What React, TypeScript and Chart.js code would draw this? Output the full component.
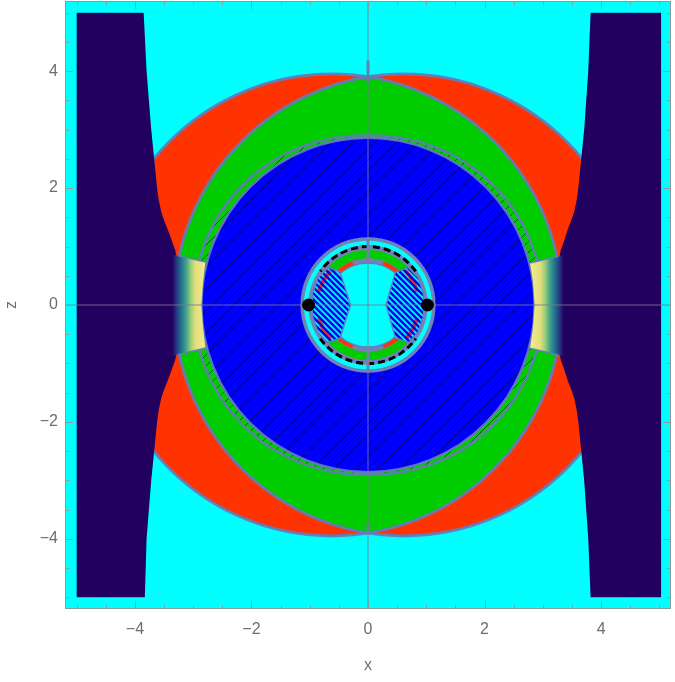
import React, { useEffect, useRef } from "react";
import { Chart, registerables } from "chart.js";

Chart.register(...registerables);

type Pt = [number, number];

// ---------------- axes ----------------
const AXIS_MIN = -5.2;
const AXIS_MAX = 5.2;
const xTickValues = [-4, -2, 0, 2, 4];
const zTickValues = [-4, -2, 0, 2, 4];
const frameTickValues = [-5, -4.5, -4, -3.5, -3, -2.5, -2, -1.5, -1, -0.5, 0, 0.5, 1, 1.5, 2, 2.5, 3, 3.5, 4, 4.5, 5];

// ---------------- outer regions (x, z) ----------------
// two equal circles: their intersection is green, the rest red
const lensCentersX = [-0.62, 0.62];
const LENS_RADIUS = 3.95;
// hatched band around the blue core
const bandCentersX = [-0.1, 0.1];
const BAND_RADIUS = 2.9;
const CORE_RADIUS = 2.86;

const navyLeft: Pt[] = [
  [-5, 5], [-3.85, 5], [-3.8, 4], [-3.72, 3], [-3.67, 2.5], [-3.62, 2], [-3.59, 1.79], [-3.55, 1.6],
  [-3.5, 1.45], [-3.44, 1.3], [-3.37, 1.11], [-3.31, 0.94], [-3.28, 0.8], [-3.25, 0.5], [-3.24, 0],
  [-3.25, -0.5], [-3.28, -0.8], [-3.31, -0.94], [-3.37, -1.11], [-3.44, -1.3], [-3.5, -1.45],
  [-3.55, -1.6], [-3.59, -1.79], [-3.62, -2], [-3.67, -2.5], [-3.72, -3], [-3.8, -4], [-3.83, -5], [-5, -5],
];
const navyRight: Pt[] = [
  [5.03, 5], [3.82, 5], [3.78, 4], [3.71, 3], [3.66, 2.5], [3.61, 2], [3.58, 1.79], [3.54, 1.6],
  [3.49, 1.45], [3.43, 1.3], [3.37, 1.11], [3.31, 0.94], [3.28, 0.8], [3.25, 0.5], [3.24, 0],
  [3.25, -0.5], [3.28, -0.8], [3.31, -0.94], [3.37, -1.11], [3.43, -1.3], [3.49, -1.45],
  [3.54, -1.6], [3.58, -1.79], [3.61, -2], [3.66, -2.5], [3.71, -3], [3.78, -4], [3.82, -5], [5.03, -5],
];

const capLeft: Pt[] = [
  [-3.45, 0.885], [-3.27, 0.845], [-2.79, 0.735], [-2.83, 0.4], [-2.86, 0], [-2.83, -0.4],
  [-2.79, -0.735], [-3.27, -0.85], [-3.45, -0.89],
];
const capRight: Pt[] = [
  [3.45, 0.885], [3.27, 0.835], [2.78, 0.72], [2.83, 0.4], [2.86, 0], [2.83, -0.4],
  [2.78, -0.74], [3.27, -0.855], [3.45, -0.9],
];
const capStopX = [3.36, 3.28, 3.2, 3.12, 3.04, 2.96, 2.8];

const capEdgeTopLeft: Pt[] = [[-3.27, 0.845], [-2.79, 0.735]];
const capEdgeBottomLeft: Pt[] = [[-3.27, -0.85], [-2.79, -0.735]];
const capEdgeTopRight: Pt[] = [[3.27, 0.835], [2.78, 0.72]];
const capEdgeBottomRight: Pt[] = [[3.27, -0.855], [2.78, -0.74]];

const topSpike: Pt[] = [[0, 3.79], [0, 4.18]];
const bottomSpike: Pt[] = [[0, -3.74], [0, -3.9]];
const innerTopSpike: Pt[] = [[0, 0.72], [0, 1.16]];
const innerBottomSpike: Pt[] = [[0, -0.72], [0, -1.16]];

const xAxisLine: Pt[] = [[-5.2, 0], [5.2, 0]];
const zAxisLine: Pt[] = [[0, -5.2], [0, 5.2]];

// ---------------- inner structure ----------------
const innerDiskRadii = [1.16, 1.1, 1.025, 0.94, 0.8, 0.79, 0.72];
const DASHED_RADIUS = 1.0;
const dashedArcs: Pt[] = [[35, 145], [215, 325]];
const INNER_SLATE_RADIUS = 0.76;
const innerSlateArcs: Pt[] = [[70, 110], [250, 290]];
const INNER_RED_RADIUS = 0.87;
const innerRedArcs: Pt[] = [[138, 165], [195, 222], [15, 42], [318, 345]];
const innerLensLeft: Pt[] = [
  [-0.48, 0.57], [-0.3, 0], [-0.48, -0.57], [-0.7, -0.64], [-0.86, -0.46], [-0.95, -0.2],
  [-0.96, 0], [-0.95, 0.2], [-0.86, 0.46], [-0.68, 0.64],
];
const innerLensRight: Pt[] = [
  [0.47, 0.56], [0.31, 0], [0.47, -0.56], [0.7, -0.64], [0.86, -0.46], [0.95, -0.2],
  [0.96, 0], [0.95, 0.2], [0.86, 0.46], [0.69, 0.64],
];
const ringDotsX = [-1.02, 1.02];
const ringDotsZ = [0, 0];

// ---------------- styles ----------------
const CYAN = "#00ffff";
const RED = "#ff3300";
const GREEN = "#00cc00";
const BLUE = "#0000ff";
const NAVY = "#220060";
const SLATE_LINE = "rgba(100,124,186,0.92)";
const SLATE_FILL = "#7083b9";
const HATCH = "rgba(0,0,50,0.55)";
const AXIS_LINE = "rgba(120,120,150,0.85)";
const FRAME = "#8a9b9b";
const TEXT = "#6e6e6e";
const FONT = "'Liberation Sans', Arial, sans-serif";
const capStopColors = ["#220060", "#263d82", "#24758e", "#3fa38a", "#9ccc78", "#e2de7c", "#f2e98a"];
const innerDiskColors = [SLATE_FILL, CYAN, SLATE_FILL, GREEN, SLATE_FILL, RED, CYAN];

// ---------------- helpers ----------------
const pts = (p: Pt[]) => p.map(([x, z]) => ({ x, y: z }));

function ellipsePath(ctx: CanvasRenderingContext2D, chart: any, cx: number, cz: number, r: number, a0 = 0, a1 = 360) {
  const xs = chart.scales.x;
  const ys = chart.scales.y;
  const X = xs.getPixelForValue(cx);
  const Y = ys.getPixelForValue(cz);
  const rx = Math.abs(xs.getPixelForValue(cx + r) - X);
  const ry = Math.abs(ys.getPixelForValue(cz + r) - Y);
  const s = (-a0 * Math.PI) / 180;
  const e = (-a1 * Math.PI) / 180;
  ctx.moveTo(X + rx * Math.cos(s), Y + ry * Math.sin(s));
  ctx.ellipse(X, Y, rx, ry, 0, s, e, true);
}

function polyPath(ctx: CanvasRenderingContext2D, chart: any, p: Pt[]) {
  p.forEach(([x, z], i) => {
    const X = chart.scales.x.getPixelForValue(x);
    const Y = chart.scales.y.getPixelForValue(z);
    if (i === 0) ctx.moveTo(X, Y);
    else ctx.lineTo(X, Y);
  });
  ctx.closePath();
}

function stripes(ctx: CanvasRenderingContext2D, a: any, spacing: number, width: number, color: string, up: boolean) {
  const H = a.bottom - a.top;
  ctx.strokeStyle = color;
  ctx.lineWidth = width;
  ctx.beginPath();
  for (let x = a.left - H; x < a.right + H; x += spacing) {
    if (up) {
      ctx.moveTo(x, a.bottom);
      ctx.lineTo(x + H, a.top);
    } else {
      ctx.moveTo(x, a.top);
      ctx.lineTo(x + H, a.bottom);
    }
  }
  ctx.stroke();
}

function capGradient(chart: any, sign: number) {
  const area = chart.chartArea;
  const xs = chart.scales && chart.scales.x;
  if (!area || !xs) return NAVY;
  const p0 = xs.getPixelForValue(sign * capStopX[0]);
  const p1 = xs.getPixelForValue(sign * capStopX[capStopX.length - 1]);
  const g = chart.ctx.createLinearGradient(p0, 0, p1, 0);
  capStopX.forEach((v, i) => {
    const t = (xs.getPixelForValue(sign * v) - p0) / (p1 - p0);
    g.addColorStop(Math.min(1, Math.max(0, t)), capStopColors[i]);
  });
  return g;
}

const regionsPlugin = {
  id: "regions",
  beforeDatasetsDraw(chart: any) {
    const ctx: CanvasRenderingContext2D = chart.ctx;
    const a = chart.chartArea;
    const x0 = chart.scales.x.getPixelForValue(0);
    ctx.save();
    ctx.beginPath();
    ctx.rect(a.left, a.top, a.right - a.left, a.bottom - a.top);
    ctx.clip();
    ctx.fillStyle = CYAN;
    ctx.fillRect(a.left, a.top, a.right - a.left, a.bottom - a.top);

    // red crescents (union of two circles)
    ctx.fillStyle = RED;
    for (const cx of lensCentersX) {
      ctx.beginPath();
      ellipsePath(ctx, chart, cx, 0, LENS_RADIUS);
      ctx.fill();
    }
    // green lens (intersection)
    ctx.save();
    ctx.beginPath();
    ellipsePath(ctx, chart, lensCentersX[0], 0, LENS_RADIUS);
    ctx.clip();
    ctx.fillStyle = GREEN;
    ctx.beginPath();
    ellipsePath(ctx, chart, lensCentersX[1], 0, LENS_RADIUS);
    ctx.fill();
    ctx.restore();

    // blue core
    ctx.fillStyle = BLUE;
    ctx.beginPath();
    ellipsePath(ctx, chart, 0, 0, CORE_RADIUS);
    ctx.fill();

    // hatch over core + band
    ctx.save();
    ctx.beginPath();
    for (const cx of bandCentersX) ellipsePath(ctx, chart, cx, 0, BAND_RADIUS);
    ctx.clip();
    stripes(ctx, a, 11, 1, HATCH, true);
    ctx.restore();

    // boundary strokes
    ctx.strokeStyle = SLATE_LINE;
    ctx.lineWidth = 3;
    for (const cx of lensCentersX) {
      ctx.beginPath();
      ellipsePath(ctx, chart, cx, 0, LENS_RADIUS);
      ctx.stroke();
    }
    ctx.lineWidth = 2.5;
    ctx.save();
    ctx.beginPath();
    ctx.rect(a.left, a.top, x0 - a.left, a.bottom - a.top);
    ctx.clip();
    ctx.beginPath();
    ellipsePath(ctx, chart, bandCentersX[0], 0, BAND_RADIUS);
    ctx.stroke();
    ctx.restore();
    ctx.save();
    ctx.beginPath();
    ctx.rect(x0, a.top, a.right - x0, a.bottom - a.top);
    ctx.clip();
    ctx.beginPath();
    ellipsePath(ctx, chart, bandCentersX[1], 0, BAND_RADIUS);
    ctx.stroke();
    ctx.restore();
    ctx.beginPath();
    ellipsePath(ctx, chart, 0, 0, CORE_RADIUS);
    ctx.stroke();

    // ---- inner structure ----
    innerDiskRadii.forEach((r, i) => {
      ctx.fillStyle = innerDiskColors[i];
      ctx.beginPath();
      ellipsePath(ctx, chart, 0, 0, r);
      ctx.fill();
    });
    ctx.strokeStyle = SLATE_FILL;
    ctx.lineWidth = 4;
    for (const [s, e] of innerSlateArcs) {
      ctx.beginPath();
      ellipsePath(ctx, chart, 0, 0, INNER_SLATE_RADIUS, s, e);
      ctx.stroke();
    }
    ctx.strokeStyle = SLATE_LINE;
    ctx.lineWidth = 1.5;
    ctx.beginPath();
    ellipsePath(ctx, chart, 0, 0, innerDiskRadii[innerDiskRadii.length - 1]);
    ctx.stroke();

    for (const lens of [innerLensLeft, innerLensRight]) {
      ctx.save();
      ctx.beginPath();
      polyPath(ctx, chart, lens);
      ctx.fillStyle = CYAN;
      ctx.fill();
      ctx.clip();
      ctx.strokeStyle = RED;
      ctx.lineWidth = 4;
      for (const [s, e] of innerRedArcs) {
        ctx.beginPath();
        ellipsePath(ctx, chart, 0, 0, INNER_RED_RADIUS, s, e);
        ctx.stroke();
      }
      stripes(ctx, a, 6, 2.6, BLUE, false);
      ctx.restore();
      ctx.strokeStyle = SLATE_LINE;
      ctx.lineWidth = 1.5;
      ctx.beginPath();
      polyPath(ctx, chart, lens);
      ctx.stroke();
    }

    ctx.strokeStyle = "#000000";
    ctx.lineWidth = 3;
    ctx.setLineDash([7, 4]);
    for (const [s, e] of dashedArcs) {
      ctx.beginPath();
      ellipsePath(ctx, chart, 0, 0, DASHED_RADIUS, s, e);
      ctx.stroke();
    }
    ctx.setLineDash([]);
    ctx.restore();
  },
  afterDatasetsDraw(chart: any) {
    const ctx: CanvasRenderingContext2D = chart.ctx;
    const a = chart.chartArea;
    const xs = chart.scales.x;
    const ys = chart.scales.y;
    ctx.save();
    ctx.strokeStyle = FRAME;
    ctx.lineWidth = 1;
    ctx.strokeRect(a.left + 0.5, a.top + 0.5, a.right - a.left - 1, a.bottom - a.top - 1);
    ctx.beginPath();
    frameTickValues.forEach((v) => {
      const lx = xTickValues.includes(v) ? 8 : 4;
      const lz = zTickValues.includes(v) ? 8 : 4;
      const X = Math.round(xs.getPixelForValue(v)) + 0.5;
      ctx.moveTo(X, a.bottom);
      ctx.lineTo(X, a.bottom - lx);
      ctx.moveTo(X, a.top);
      ctx.lineTo(X, a.top + lx);
      const Y = Math.round(ys.getPixelForValue(v)) + 0.5;
      ctx.moveTo(a.left, Y);
      ctx.lineTo(a.left + lz, Y);
      ctx.moveTo(a.right, Y);
      ctx.lineTo(a.right - lz, Y);
    });
    ctx.stroke();
    ctx.restore();
  },
};

function shapeDataset(p: Pt[], color: any, order: number) {
  return {
    data: pts(p),
    showLine: true,
    fill: "shape",
    backgroundColor: color,
    borderColor: "rgba(0,0,0,0)",
    borderWidth: 0,
    pointRadius: 0,
    pointHoverRadius: 0,
    tension: 0,
    order,
  };
}

function lineDataset(p: Pt[], color: string, width: number, order: number) {
  return {
    data: pts(p),
    showLine: true,
    fill: false,
    borderColor: color,
    borderWidth: width,
    borderCapStyle: "butt",
    pointRadius: 0,
    pointHoverRadius: 0,
    order,
  };
}

const fmt = (v: number) => (v < 0 ? "\u2212" + Math.abs(v) : String(v));

export default function App() {
  const ref = useRef<HTMLCanvasElement>(null);
  useEffect(() => {
    if (!ref.current) return;
    const chart = new Chart(ref.current, {
      type: "scatter",
      data: {
        datasets: [
          {
            data: ringDotsX.map((x, i) => ({ x, y: ringDotsZ[i] })),
            pointRadius: 6.5,
            pointHoverRadius: 6.5,
            backgroundColor: "#000000",
            borderColor: "#000000",
            borderWidth: 0,
            order: 0,
          },
          lineDataset(xAxisLine, AXIS_LINE, 1, 1),
          lineDataset(zAxisLine, AXIS_LINE, 1, 1),
          lineDataset(topSpike, SLATE_LINE, 3, 2),
          lineDataset(bottomSpike, SLATE_LINE, 3, 2),
          lineDataset(innerTopSpike, SLATE_FILL, 3, 2),
          lineDataset(innerBottomSpike, SLATE_FILL, 3, 2),
          lineDataset(capEdgeTopLeft, SLATE_LINE, 1.5, 3),
          lineDataset(capEdgeBottomLeft, SLATE_LINE, 1.5, 3),
          lineDataset(capEdgeTopRight, SLATE_LINE, 1.5, 3),
          lineDataset(capEdgeBottomRight, SLATE_LINE, 1.5, 3),
          shapeDataset(capLeft, (c: any) => capGradient(c.chart, -1), 4),
          shapeDataset(capRight, (c: any) => capGradient(c.chart, 1), 4),
          shapeDataset(navyLeft, NAVY, 5),
          shapeDataset(navyRight, NAVY, 5),
        ] as any,
      },
      options: {
        responsive: false,
        animation: false,
        devicePixelRatio: 1,
        events: [],
        layout: { autoPadding: false, padding: { left: 0, right: 4, top: 1, bottom: 0 } },
        plugins: { legend: { display: false }, tooltip: { enabled: false } },
        scales: {
          x: {
            type: "linear",
            min: AXIS_MIN,
            max: AXIS_MAX,
            grid: { display: false, drawTicks: false },
            border: { display: false },
            afterBuildTicks: (s: any) => {
              s.ticks = xTickValues.map((v) => ({ value: v }));
            },
            afterFit: (s: any) => {
              s.height = 73;
              s.paddingLeft = 0;
              s.paddingRight = 0;
            },
            ticks: {
              autoSkip: false,
              maxRotation: 0,
              padding: 11,
              color: TEXT,
              font: { family: FONT, size: 16 },
              callback: (v: any) => fmt(Number(v)),
            },
            title: {
              display: true,
              text: "x",
              color: TEXT,
              font: { family: FONT, size: 16 },
              padding: { top: 0, bottom: 7 },
            },
          },
          y: {
            type: "linear",
            min: AXIS_MIN,
            max: AXIS_MAX,
            grid: { display: false, drawTicks: false },
            border: { display: false },
            afterBuildTicks: (s: any) => {
              s.ticks = zTickValues.map((v) => ({ value: v }));
            },
            afterFit: (s: any) => {
              s.width = 65;
              s.paddingTop = 0;
              s.paddingBottom = 0;
            },
            ticks: {
              autoSkip: false,
              padding: 7,
              color: TEXT,
              font: { family: FONT, size: 16 },
              callback: (v: any) => fmt(Number(v)),
            },
            title: {
              display: true,
              text: "z",
              color: TEXT,
              font: { family: FONT, size: 16 },
              padding: { top: 2, bottom: 0 },
            },
          },
        },
      } as any,
      plugins: [regionsPlugin],
    });
    return () => chart.destroy();
  }, []);
  return (
    <div style={{ position: "fixed", left: 0, top: 0, width: 675, height: 682, background: "#ffffff" }}>
      <canvas ref={ref} width={675} height={682} style={{ width: 675, height: 682, display: "block" }} />
    </div>
  );
}
